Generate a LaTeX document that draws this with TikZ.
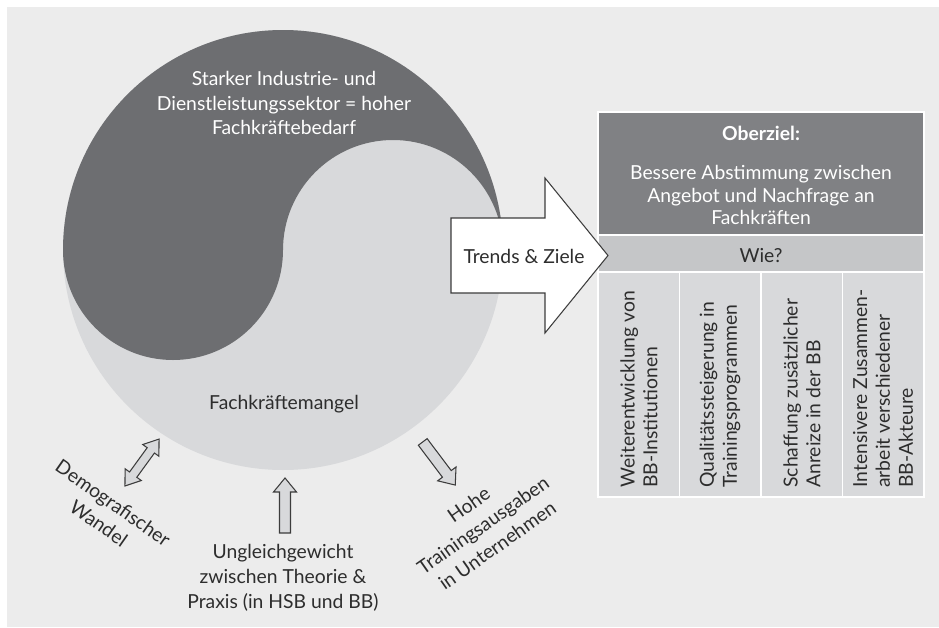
\documentclass[tikz,border=0pt]{standalone}
\usepackage{fontspec}
\setmainfont{Lato}
\definecolor{bggray}{RGB}{236,236,236}
\definecolor{circledark}{RGB}{109,110,113}
\definecolor{circlelight}{RGB}{216,217,219}
\definecolor{obergray}{RGB}{128,129,132}
\definecolor{wiegray}{RGB}{197,198,200}
\definecolor{colgray}{RGB}{216,217,219}
\definecolor{textgray}{RGB}{45,45,45}
\definecolor{arrowline}{RGB}{60,60,60}
\tikzset{
  bigtext/.style={font=\fontsize{11}{14.2}\selectfont, align=center, text=textgray},
  tabtext/.style={font=\fontsize{11}{13}\selectfont, align=center},
  coltext/.style={font=\fontsize{11}{13}\selectfont, align=left, text=textgray, rotate=90, anchor=west, inner sep=0pt},
  blockarrow/.style={draw=arrowline, fill=circlelight, line width=0.6pt},
  cell/.style={draw=white, line width=1pt}
}
\begin{document}
\begin{tikzpicture}[x=0.02cm,y=0.02cm]
\useasboundingbox (0,0) rectangle (939,627);
\fill[bggray] (7,0) rectangle (939,620);
% yin-yang circle
\fill[circlelight] (283,377) circle (220);
\fill[circledark] (63,377) arc (180:0:220) arc (0:180:110) arc (0:-180:110) -- cycle;
\node[bigtext, text=white] (bedarf) at (284,524) {Starker Industrie- und\\Dienstleistungssektor = hoher\\Fachkräftebedarf};
\node[bigtext] (mangel) at (284,223) {Fachkräftemangel};
% table on the right
\draw[cell, fill=obergray] (598,515) rectangle (924,392);
\draw[cell, fill=wiegray] (598,392) rectangle (924,355);
\foreach \x in {598,679.5,761,842.5}
  \draw[cell, fill=colgray] (\x,355) rectangle ++(81.5,-225);
\node[tabtext, text=white, font=\fontsize{11}{13}\selectfont\bfseries] (ober) at (761,494) {Oberziel:};
\node[tabtext, text=white] (ziel) at (761,432) {Bessere Abstimmung zwischen\\Angebot und Nachfrage an\\Fachkräften};
\node[tabtext, text=textgray] (wie) at (761,371) {Wie?};
\node[coltext] (inst) at (639,139) {Weiterentwicklung von\\BB-Institutionen};
\node[coltext] (quali) at (720,139) {Qualitätssteigerung in\\Trainingsprogrammen};
\node[coltext] (anreiz) at (802,139) {Schaffung zusätzlicher\\Anreize in der BB};
\node[coltext] (akteure) at (883,139) {Intensivere Zusammen-\\arbeit verschiedener\\BB-Akteure};
% big arrow
\draw[line width=0.6pt, draw=arrowline, fill=white] (451,409) --++ (94,0) --++ (0,40) -- (608,371.5) -- (545,294) --++ (0,40) --++ (-94,0) -- cycle;
\node[bigtext] (trend) at (524,371) {Trends \& Ziele};
% small arrows
\begin{scope}[shift={(142,164.5)}, rotate=54]
\draw[blockarrow] (-29,0) -- (-15,10) -- (-15,4.5) -- (15,4.5) -- (15,10) -- (29,0) -- (15,-10) -- (15,-4.5) -- (-15,-4.5) -- (-15,-10) -- cycle;
\end{scope}
\begin{scope}[shift={(285,121.5)}, rotate=90]
\draw[blockarrow] (-27.5,5.5) -- (13.5,5.5) -- (13.5,11.5) -- (27.5,0) -- (13.5,-11.5) -- (13.5,-5.5) -- (-27.5,-5.5) -- cycle;
\end{scope}
\begin{scope}[shift={(439,163.5)}, rotate=-53]
\draw[blockarrow] (-27,5.5) -- (13,5.5) -- (13,11.5) -- (27,0) -- (13,-11.5) -- (13,-5.5) -- (-27,-5.5) -- cycle;
\end{scope}
\node[bigtext, rotate=-35] (demo) at (106,114) {Demografischer\\Wandel};
\node[bigtext] (ungleich) at (283,49) {Ungleichgewicht\\zwischen Theorie \&\\Praxis (in HSB und BB)};
\node[bigtext, rotate=35] (ausgaben) at (483,102) {Hohe\\Trainingsausgaben\\in Unternehmen};
\end{tikzpicture}
\end{document}
